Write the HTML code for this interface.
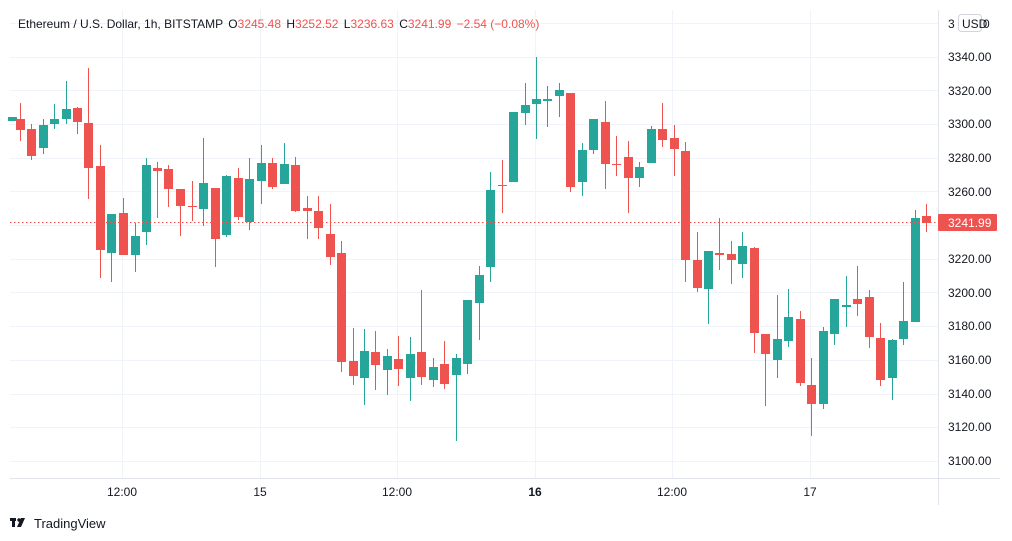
<!DOCTYPE html>
<html><head><meta charset="utf-8"><style>
body{margin:0;width:1012px;height:541px;background:#fff;overflow:hidden;font-family:"Liberation Sans",sans-serif}
svg{position:absolute;left:0;top:0}
</style></head><body>
<svg width="1012" height="541" xmlns="http://www.w3.org/2000/svg" font-family="Liberation Sans, sans-serif">
<g stroke="#f0f3fa" stroke-width="1">
<line x1="10" x2="938" y1="23.5" y2="23.5"/><line x1="10" x2="938" y1="57.5" y2="57.5"/><line x1="10" x2="938" y1="90.5" y2="90.5"/><line x1="10" x2="938" y1="124.5" y2="124.5"/><line x1="10" x2="938" y1="158.5" y2="158.5"/><line x1="10" x2="938" y1="191.5" y2="191.5"/><line x1="10" x2="938" y1="225.5" y2="225.5"/><line x1="10" x2="938" y1="259.5" y2="259.5"/><line x1="10" x2="938" y1="292.5" y2="292.5"/><line x1="10" x2="938" y1="326.5" y2="326.5"/><line x1="10" x2="938" y1="360.5" y2="360.5"/><line x1="10" x2="938" y1="394.5" y2="394.5"/><line x1="10" x2="938" y1="427.5" y2="427.5"/><line x1="10" x2="938" y1="461.5" y2="461.5"/>
<line x1="122.5" x2="122.5" y1="10" y2="478"/><line x1="260.5" x2="260.5" y1="10" y2="478"/><line x1="397.5" x2="397.5" y1="10" y2="478"/><line x1="535.5" x2="535.5" y1="10" y2="478"/><line x1="672.5" x2="672.5" y1="10" y2="478"/><line x1="810.5" x2="810.5" y1="10" y2="478"/>
</g>
<line x1="938.5" x2="938.5" y1="10" y2="505" stroke="#e0e3eb"/>
<line x1="10" x2="1000" y1="478.5" y2="478.5" stroke="#e0e3eb"/>
<g id="c"></g>
<line x1="10" x2="938" y1="222.5" y2="222.5" stroke="#ef5350" stroke-dasharray="1.5,2.5"/>
<g font-size="12" fill="#131722">
<text x="948" y="61">3340.00</text><text x="948" y="95">3320.00</text><text x="948" y="128">3300.00</text><text x="948" y="162">3280.00</text><text x="948" y="196">3260.00</text><text x="948" y="263">3220.00</text><text x="948" y="297">3200.00</text><text x="948" y="330">3180.00</text><text x="948" y="364">3160.00</text><text x="948" y="398">3140.00</text><text x="948" y="431">3120.00</text><text x="948" y="465">3100.00</text>
<text x="948" y="28">3</text><text x="983" y="28">0</text>
</g>
<rect x="958.5" y="14.5" width="23" height="17" rx="3" fill="#fff" stroke="#d1d4dc"/>
<text x="962" y="28" font-size="12" fill="#131722">USD</text>
<rect x="938" y="214" width="59" height="17" rx="1" fill="#ef5350"/>
<text x="948" y="227" font-size="12" fill="#fff">3241.99</text>
<g font-size="12" fill="#131722" text-anchor="middle">
<text x="122" y="496">12:00</text><text x="260" y="496">15</text><text x="397" y="496">12:00</text><text x="535" y="496" font-weight="bold">16</text><text x="672" y="496">12:00</text><text x="810" y="496">17</text>
</g>
<text x="18" y="28" font-size="12" fill="#131722">Ethereum / U.S. Dollar, 1h, BITSTAMP <tspan dx="2">O</tspan><tspan fill="#ef5350">3245.48</tspan> <tspan dx="2">H</tspan><tspan fill="#ef5350">3252.52</tspan> <tspan dx="2">L</tspan><tspan fill="#ef5350">3236.63</tspan> <tspan dx="2">C</tspan><tspan fill="#ef5350">3241.99</tspan> <tspan dx="2" fill="#ef5350">−2.54 (−0.08%)</tspan></text>
<g fill="#131722"><rect x="10" y="518" width="6" height="3"/><rect x="12" y="518" width="3" height="9"/><circle cx="19" cy="520" r="1.7"/><polygon points="21,518 25,518 21,527 17,527"/></g>
<text x="34" y="528" font-size="13" fill="#131722">TradingView</text>
</svg>
<script>
var d=[[11.5,117,121,117,121,'g'],[19.5,119,130,103,141,'r'],[31,129,156,124,160,'r'],[42.5,125,148,119,154,'g'],[54,119,124,104,129,'g'],[65.5,109,119,81,124,'g'],[77,108,122,107,134,'r'],[88,123,168,68,199,'r'],[100,166,250,145,278,'r'],[111,214,253,214,282,'g'],[123,213,255,198,255,'r'],[134.5,236,255,223,272,'g'],[145.5,165,232,158,245,'g'],[157,168,171,162,218,'r'],[168,169,189,165,207,'r'],[180,189,206,189,236,'r'],[191.5,206,207,181,221,'r'],[203,183,209,138,226,'g'],[214.5,188,239,188,267,'r'],[226,176,235,175,237,'g'],[237.5,178,217,168,220,'r'],[249,179,222,158,230,'g'],[260.5,163,181,145,204,'g'],[272,163,187,158,189,'r'],[283.5,164,184,143,184,'g'],[295,165,211,157,212,'r'],[306.5,208,211,196,239,'r'],[318,211,228,196,239,'r'],[329.5,234,257,204,265,'r'],[341,253,362,241,372,'r'],[352.5,361,376,328,385,'r'],[364,351,378,329,405,'g'],[375,352,365,331,390,'r'],[387,356,370,349,395,'g'],[398,359,369,336,386,'r'],[410,354,378,337,401,'g'],[421,352,377,290,385,'r'],[433,367,380,358,387,'g'],[444,364,384,341,389,'r'],[456,358,375,354,441,'g'],[467,300,364,300,374,'g'],[478.5,275,303,266,340,'g'],[490,190,267,172,282,'g'],[501.5,185,186,160,213,'r'],[513,112,182,112,182,'g'],[524.5,105,113,83,125,'g'],[536,99,104,57,139,'g'],[547,99,101,86,127,'g'],[559,90,96,83,117,'g'],[570,93,187,93,192,'r'],[582,150,182,143,196,'g'],[593,119,150,119,154,'g'],[605,122,164,101,189,'r'],[616,164,165,136,176,'r'],[628,157,178,141,213,'r'],[639,167,178,162,187,'g'],[650.5,129,163,126,163,'g'],[662,129,140,103,147,'r'],[673.5,138,149,125,176,'r'],[685,151,260,142,282,'r'],[696.5,260,288,232,292,'r'],[707.5,251,289,251,324,'g'],[719,253,255,218,270,'r'],[730.5,254,260,241,284,'r'],[742,246,264,232,278,'g'],[753.5,248,333,247,353,'r'],[765,334,354,334,406,'r'],[776.5,339,360,295,378,'g'],[788,317,341,289,347,'g'],[799.5,319,383,311,386,'r'],[811,385,404,358,436,'r'],[822.5,331,404,327,409,'g'],[834,299,334,299,345,'g'],[845.5,305,307,276,327,'g'],[857,299,304,266,316,'r'],[868.5,297,337,290,348,'r'],[880,338,380,323,386,'r'],[891.5,340,378,339,400,'g'],[903,321,339,282,345,'g'],[914.5,218,322,210,322,'g'],[926,216,223,204,232,'r']];
var s='';d.forEach(function(c){var col=c[5]=='g'?'#26a69a':'#ef5350';var x=Math.round(c[0]);s+='<rect x="'+x+'" y="'+c[3]+'" width="1" height="'+(c[4]-c[3])+'" fill="'+col+'"/>';s+='<rect x="'+(x-4)+'" y="'+c[1]+'" width="9" height="'+Math.max(1,c[2]-c[1])+'" fill="'+col+'"/>';});
document.getElementById('c').innerHTML=s;
</script>
</body></html>
